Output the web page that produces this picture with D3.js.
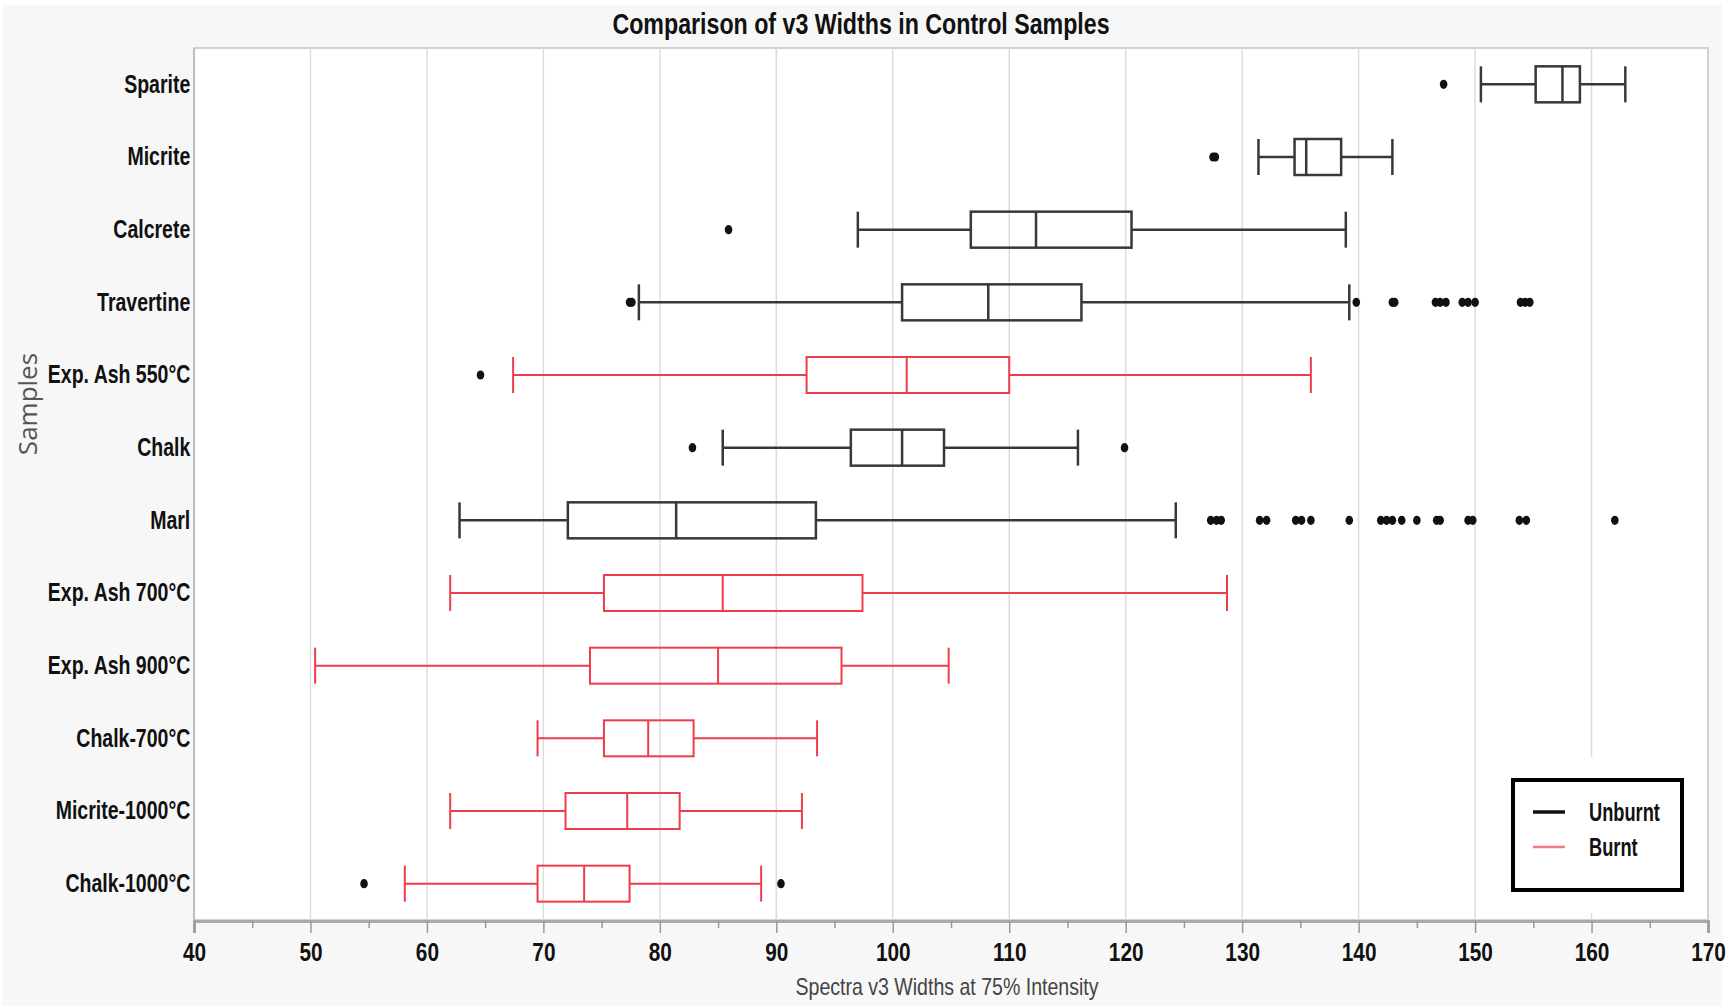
<!DOCTYPE html>
<html><head><meta charset="utf-8">
<script src="https://cdn.jsdelivr.net/npm/d3@7"></script>
<style>
html,body{margin:0;padding:0;background:#fff;}
svg{display:block;}
</style></head><body>
<svg id="chart" width="1736" height="1008"></svg>
<script>
// ---------- data ----------
const categories = ["Sparite","Micrite","Calcrete","Travertine","Exp. Ash 550°C","Chalk","Marl",
  "Exp. Ash 700°C","Exp. Ash 900°C","Chalk-700°C","Micrite-1000°C","Chalk-1000°C"];
const groups = ["Unburnt","Unburnt","Unburnt","Unburnt","Burnt","Unburnt","Unburnt",
  "Burnt","Burnt","Burnt","Burnt","Burnt"];
const whiskerLow  = [150.5,131.4, 97.0, 78.2, 67.4, 85.4, 62.8, 62.0, 50.4, 69.5, 62.0, 58.1];
const q1          = [155.2,134.5,106.7,100.8, 92.6, 96.4, 72.1, 75.2, 74.0, 75.2, 71.9, 69.5];
const medians     = [157.5,135.5,112.3,108.2,101.2,100.8, 81.4, 85.4, 85.0, 79.0, 77.2, 73.5];
const q3          = [159.0,138.5,120.5,116.2,110.0,104.4, 93.4, 97.4, 95.6, 82.9, 81.7, 77.4];
const whiskerHigh = [162.9,142.9,138.9,139.2,135.9,115.9,124.3,128.7,104.8, 93.5, 92.2, 88.7];
const outliers = [
  [147.3],
  [127.5,127.7],
  [85.9],
  [77.4,77.6,139.8,142.9,143.1,146.6,147.0,147.5,148.9,149.4,150.0,153.9,154.3,154.7],
  [64.6],
  [82.8,119.9],
  [127.3,127.8,128.2,131.5,132.1,134.6,135.1,135.9,139.2,141.9,142.4,142.9,143.7,145.0,146.7,147.0,149.4,149.8,153.8,154.4,162.0],
  [],[],[],[],
  [54.6,90.4]
];
const xTicks = [40,50,60,70,80,90,100,110,120,130,140,150,160,170];
const legendLabels = ["Unburnt","Burnt"];

// ---------- layout ----------
const W = 1736, H = 1008;
const P = {left:194, right:1708, top:48, bottom:920};
const colors = {Unburnt:"#383838", Burnt:"#ee3d4a"};
const legendColors = {Unburnt:"#111", Burnt:"#f27a84"};
const sans = '"Liberation Sans",Arial,sans-serif';

const svg = d3.select("#chart");
svg.append("rect").attr("x",2).attr("y",5).attr("width",1720).attr("height",1001).attr("fill","#f7f7f7");

const x = d3.scaleLinear().domain([40,170]).range([P.left,P.right]);
const y = d3.scaleBand().domain(categories).range([P.top,P.bottom]).padding(0);
const boxH = 36;

// plot background
svg.append("rect").attr("x",P.left).attr("y",P.top).attr("width",P.right-P.left).attr("height",P.bottom-P.top)
  .attr("fill","#fff").attr("stroke","#d2d2d2").attr("stroke-width",2);

// gridlines
svg.append("g").selectAll("line").data(xTicks.slice(1,-1)).join("line")
  .attr("x1",d=>x(d)).attr("x2",d=>x(d)).attr("y1",P.top).attr("y2",P.bottom)
  .attr("stroke","#dcdcdc").attr("stroke-width",1.5);

// left axis line
svg.append("line").attr("x1",P.left).attr("x2",P.left).attr("y1",P.top).attr("y2",P.bottom)
  .attr("stroke","#bdbdbd").attr("stroke-width",2);

// x axis
const xAxis = d3.axisBottom(x).tickValues(xTicks).tickSize(12).tickPadding(10).tickFormat(d3.format("d"));
const gx = svg.append("g").attr("transform",`translate(0,${P.bottom+1})`).call(xAxis);
gx.select(".domain").attr("stroke","#aaaaaa").attr("stroke-width",3);
gx.selectAll(".tick line").attr("stroke","#999").attr("stroke-width",1.5);
gx.selectAll(".tick text").attr("font-family",sans).attr("font-weight","bold").attr("font-size",26)
  .attr("fill","#111").attr("transform","scale(0.8,1)");
// minor ticks
const gxm = d3.axisBottom(x).tickValues(d3.range(45,170,10)).tickSize(7).tickFormat("");
svg.append("g").attr("transform",`translate(0,${P.bottom+1})`).call(gxm)
  .call(g=>{g.select(".domain").remove(); g.selectAll("line").attr("stroke","#999").attr("stroke-width",1.5);});

// y axis labels
const yAxis = d3.axisLeft(y).tickSize(0).tickPadding(5);
const gy = svg.append("g").attr("transform",`translate(${P.left},0)`).call(yAxis);
gy.select(".domain").remove();
gy.selectAll(".tick text").attr("font-family",sans).attr("font-weight","bold").attr("font-size",26)
  .attr("fill","#111").attr("transform","scale(0.75,1)");

// boxes
const rows = categories.map((c,i)=>({c,g:groups[i],lo:whiskerLow[i],q1:q1[i],med:medians[i],q3:q3[i],hi:whiskerHigh[i],out:outliers[i]}));
const bg = svg.append("g").selectAll("g").data(rows).join("g")
  .attr("transform",d=>`translate(0,${y(d.c)+y.bandwidth()/2})`);
bg.each(function(d){
  const g = d3.select(this);
  const col = colors[d.g];
  const sw = d.g==="Unburnt" ? 2.5 : 2;
  g.append("line").attr("x1",x(d.lo)).attr("x2",x(d.q1)).attr("stroke",col).attr("stroke-width",sw);
  g.append("line").attr("x1",x(d.q3)).attr("x2",x(d.hi)).attr("stroke",col).attr("stroke-width",sw);
  g.append("line").attr("x1",x(d.lo)).attr("x2",x(d.lo)).attr("y1",-boxH/2).attr("y2",boxH/2).attr("stroke",col).attr("stroke-width",sw);
  g.append("line").attr("x1",x(d.hi)).attr("x2",x(d.hi)).attr("y1",-boxH/2).attr("y2",boxH/2).attr("stroke",col).attr("stroke-width",sw);
  g.append("rect").attr("x",x(d.q1)).attr("width",x(d.q3)-x(d.q1)).attr("y",-boxH/2).attr("height",boxH)
    .attr("fill","none").attr("stroke",col).attr("stroke-width",sw);
  g.append("line").attr("x1",x(d.med)).attr("x2",x(d.med)).attr("y1",-boxH/2).attr("y2",boxH/2).attr("stroke",col).attr("stroke-width",sw);
  g.selectAll("ellipse").data(d.out).join("ellipse")
    .attr("cx",v=>x(v)).attr("cy",0).attr("rx",3.8).attr("ry",4.6).attr("fill","#111");
});

// title
svg.append("g").attr("transform","translate(861,34)")
  .append("text").attr("text-anchor","middle").attr("transform","scale(0.8,1)")
  .attr("font-family",sans).attr("font-weight","bold").attr("font-size",29).attr("fill","#111")
  .text("Comparison of v3 Widths in Control Samples");

// axis titles
svg.append("g").attr("transform","translate(947,995)")
  .append("text").attr("text-anchor","middle").attr("transform","scale(0.85,1)")
  .attr("font-family",sans).attr("font-size",23).attr("fill","#444")
  .text("Spectra v3 Widths at 75% Intensity");
svg.append("text").attr("transform","translate(37,404) rotate(-90)").attr("text-anchor","middle")
  .attr("font-family",'"Open Sans",sans-serif').attr("font-size",26).attr("fill","#555")
  .text("Samples");

// legend
svg.append("rect").attr("x",1496).attr("y",757).attr("width",205).attr("height",156).attr("fill","#fff");
svg.append("rect").attr("x",1513).attr("y",780).attr("width",169).attr("height",110)
  .attr("fill","#fff").attr("stroke","#000").attr("stroke-width",4);
const lg = svg.append("g").selectAll("g").data(legendLabels).join("g")
  .attr("transform",(d,i)=>`translate(1533,${812+i*35})`);
lg.append("line").attr("x1",0).attr("x2",32).attr("stroke",d=>legendColors[d]).attr("stroke-width",(d,i)=>i===0?3.5:2.5);
lg.append("g").attr("transform","translate(56,9)")
  .append("text").attr("transform","scale(0.73,1)").attr("font-family",sans).attr("font-weight","bold")
  .attr("font-size",25).attr("fill","#111").text(d=>d);
</script>
</body></html>
